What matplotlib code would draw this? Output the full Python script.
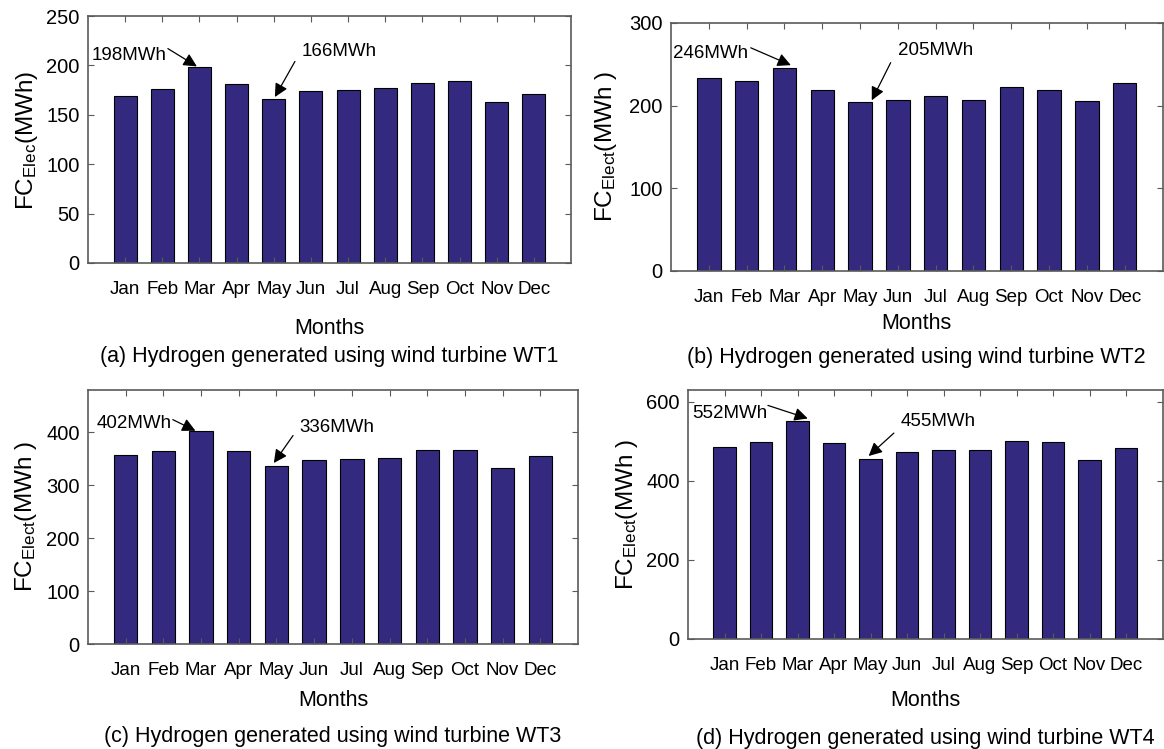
import matplotlib
matplotlib.use("Agg")
import matplotlib.pyplot as plt

plt.rcParams['font.family'] = ['Liberation Sans', 'DejaVu Sans']
plt.rcParams['mathtext.fontset'] = 'custom'
plt.rcParams['mathtext.rm'] = 'Liberation Sans'
plt.rcParams['mathtext.it'] = 'Liberation Sans'

months = ['Jan', 'Feb', 'Mar', 'Apr', 'May', 'Jun',
          'Jul', 'Aug', 'Sep', 'Oct', 'Nov', 'Dec']

# monthly hydrogen production (MWh)
wt1 = [169, 176, 198, 181, 166, 174.5, 175.5, 177.5, 182.5, 184, 163, 171]
wt2 = [233, 230, 246, 219, 205, 207, 212, 207, 222, 219, 206, 228]
wt3 = [357, 364, 402, 364, 336, 348, 350, 351, 367, 366, 332, 355]
wt4 = [487, 499, 552, 496, 455, 474, 477, 477, 500, 499, 452, 484]

ylims = [250, 300, 480, 630]
yticks = [[0, 50, 100, 150, 200, 250], [0, 100, 200, 300],
          [0, 100, 200, 300, 400], [0, 200, 400, 600]]
ylabels = [r'FC$_{\mathrm{Elec}}$(MWh)', r'FC$_{\mathrm{Elect}}$(MWh )',
           r'FC$_{\mathrm{Elect}}$(MWh )', r'FC$_{\mathrm{Elect}}$(MWh )']
titles = ['(a) Hydrogen generated using wind turbine WT1',
          '(b) Hydrogen generated using wind turbine WT2',
          '(c) Hydrogen generated using wind turbine WT3',
          '(d) Hydrogen generated using wind turbine WT4']
series = [wt1, wt2, wt3, wt4]

W, H = 1164, 749
fig = plt.figure(figsize=(W / 100, H / 100), dpi=100)

def fx(px):
    return px / W

def fy(py):
    return 1 - py / H

# axes boxes in pixels: left, top, right, bottom
boxes = [(88, 16, 571, 263), (671, 23, 1162.5, 271),
         (88, 390, 578, 644), (688, 390, 1162.5, 639)]
# y label centre, xlabel baseline, title baseline (pixels)
ylab_pos = [(27, 140), (606, 147), (26, 517), (627, 515)]
xlab_y = [334, 329, 706, 706]
title_y = [362, 363, 742, 744]

# annotation layout: (bar index, text xy, tail xy, head offset)
notes = [
    [(2, (0.11, 205), (2.15, 217), (-0.07, 1)),
     (4, (5.76, 210), (5.57, 204), (0.03, 2))],
    [(2, (0.05, 258), (2.11, 270), (0.17, 3)),
     (4, (6.0, 261), (5.81, 252), (0.31, 1.5))],
    [(2, (0.24, 409), (2.25, 424), (-0.15, 1)),
     (4, (5.62, 400), (5.44, 394), (-0.07, 6))],
    [(2, (0.11, 558), (2.19, 591), (0.28, 6)),
     (4, (5.83, 538), (5.64, 521), (-0.05, 8))],
]

bar_color = '#332a80'
frame = '#5a5a5a'
x = list(range(1, 13))

for k in range(4):
    l, t, r, b = boxes[k]
    ax = fig.add_axes([fx(l), fy(b), fx(r - l), (b - t) / H])
    vals = series[k]
    ax.bar(x, vals, width=0.62, color=bar_color, edgecolor='black', linewidth=0.8)
    ax.set_xlim(0, 13)
    ax.set_ylim(0, ylims[k])
    ax.set_xticks(x)
    ax.set_xticklabels(months, fontsize=13.5)
    ax.set_yticks(yticks[k])
    ax.tick_params(axis='y', labelsize=14.5, pad=6)
    ax.tick_params(axis='x', pad=13)
    ax.tick_params(direction='in', top=True, right=True, length=4,
                   width=0.8, color=frame)
    for s in ax.spines.values():
        s.set_color(frame)
        s.set_linewidth(1.2)

    for idx, txy, tail, (dx, dy) in notes[k]:
        ax.text(txy[0], txy[1], f'{vals[idx]:.0f}MWh', fontsize=13.5,
                ha='left', va='baseline')
        ax.annotate('', xy=(x[idx] + dx, vals[idx] + dy), xytext=tail,
                    arrowprops=dict(arrowstyle='-|>', color='black', lw=0.9,
                                    mutation_scale=20, shrinkA=0, shrinkB=0))

    cx = (l + r) / 2
    fig.text(fx(ylab_pos[k][0]), fy(ylab_pos[k][1]), ylabels[k], fontsize=17.5,
             rotation=90, ha='center', va='center')
    fig.text(fx(cx), fy(xlab_y[k]), 'Months', fontsize=15.5,
             ha='center', va='baseline')
    fig.text(fx(cx), fy(title_y[k]), titles[k], fontsize=15.5,
             ha='center', va='baseline')

fig.savefig('out.png', dpi=100, facecolor='white')
